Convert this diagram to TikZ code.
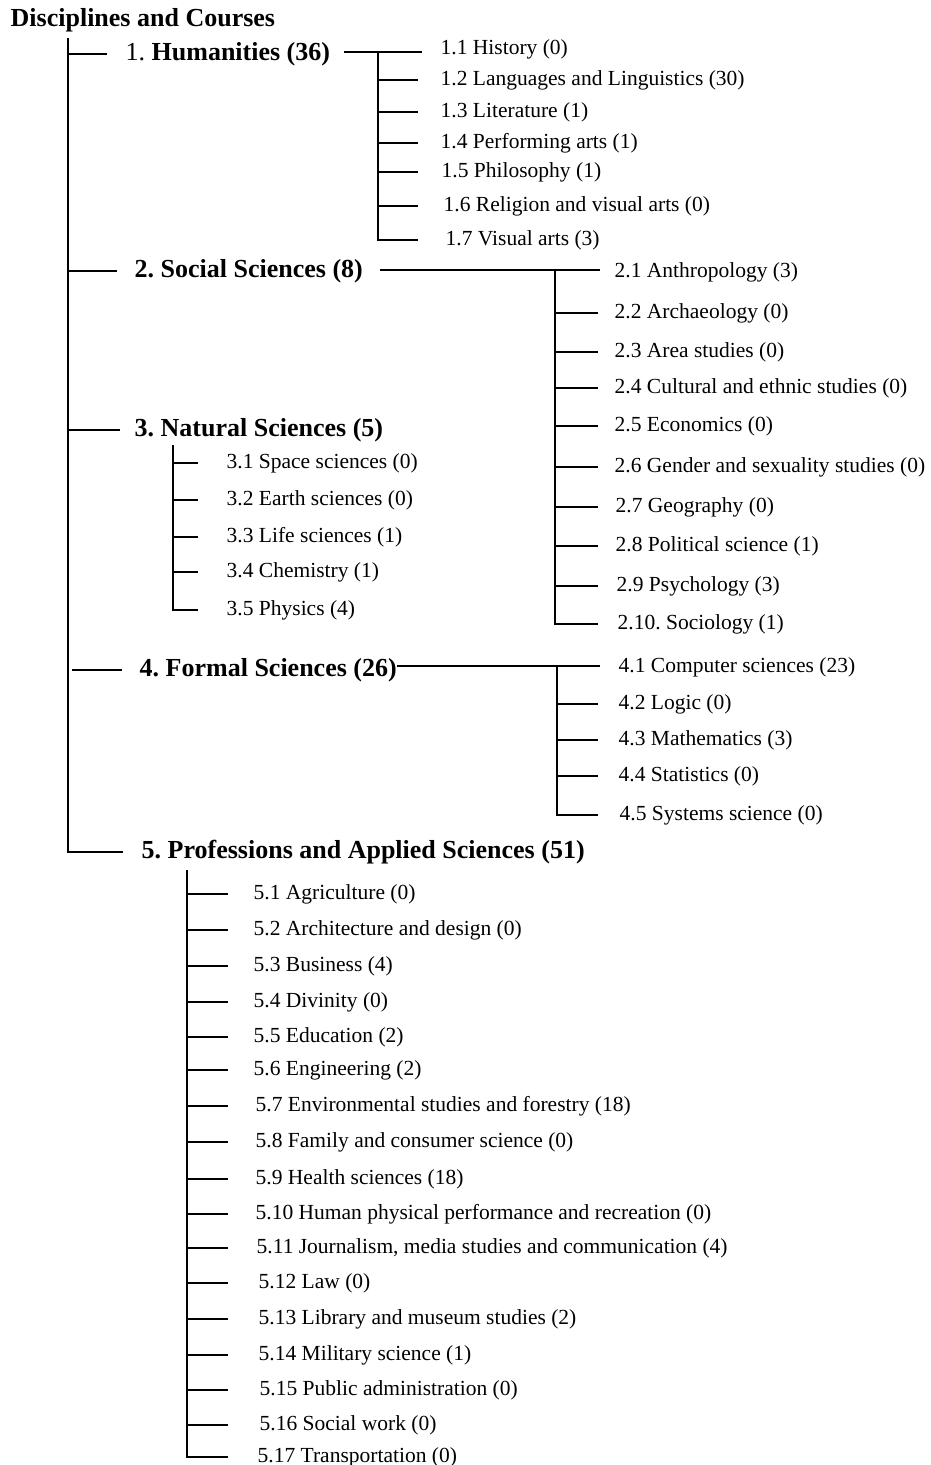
\documentclass[tikz,border=0pt]{standalone}
\usepackage{fontspec}
\setmainfont{Liberation Serif}
\usepackage{tikz}
\usetikzlibrary{calc}
\frenchspacing

\tikzset{
  head/.style={anchor=west, inner sep=0pt, yshift=-2pt, font=\fontsize{26}{30}\selectfont\bfseries},
  leaf/.style={anchor=west, inner sep=0pt, yshift=-2pt, font=\fontsize{21.5}{25}\selectfont},
}

\begin{document}
\begin{tikzpicture}[x=1pt, y=-1pt, line width=1.4pt]
  \useasboundingbox (0,0) rectangle (930,1465);
  \node[head] (title) at (10,18) {Disciplines and Courses};
  % level one
  \node[head] (d1) at (125,52) {\mdseries 1. \bfseries Humanities (36)};
  \node[head] (d2) at (134,269) {2. Social Sciences (8)};
  \node[head] (d3) at (134,428) {3. Natural Sciences (5)};
  \node[head] (d4) at (139,668) {4. Formal Sciences (26)};
  \node[head] (d5) at (141,850) {5. Professions and Applied Sciences (51)};
  % humanities
  \node[leaf] (h1) at (440,47) {1.1 History (0)};
  \node[leaf] (h2) at (440,78) {1.2 Languages and Linguistics (30)};
  \node[leaf] (h3) at (440,110) {1.3 Literature (1)};
  \node[leaf] (h4) at (440,141) {1.4 Performing arts (1)};
  \node[leaf] (h5) at (441,170) {1.5 Philosophy (1)};
  \node[leaf] (h6) at (443,204) {1.6 Religion and visual arts (0)};
  \node[leaf] (h7) at (445,238) {1.7 Visual arts (3)};
  % social sciences
  \node[leaf] (s1) at (614,270) {2.1 Anthropology (3)};
  \node[leaf] (s2) at (614,311) {2.2 Archaeology (0)};
  \node[leaf] (s3) at (614,350) {2.3 Area studies (0)};
  \node[leaf] (s4) at (614,386) {2.4 Cultural and ethnic studies (0)};
  \node[leaf] (s5) at (614,424) {2.5 Economics (0)};
  \node[leaf] (s6) at (614,465) {2.6 Gender and sexuality studies (0)};
  \node[leaf] (s7) at (615,505) {2.7 Geography (0)};
  \node[leaf] (s8) at (615,544) {2.8 Political science (1)};
  \node[leaf] (s9) at (616,584) {2.9 Psychology (3)};
  \node[leaf] (s10) at (617,622) {2.10. Sociology (1)};
  % natural sciences
  \node[leaf] (n1) at (226,461) {3.1 Space sciences (0)};
  \node[leaf] (n2) at (226,498) {3.2 Earth sciences (0)};
  \node[leaf] (n3) at (226,535) {3.3 Life sciences (1)};
  \node[leaf] (n4) at (226,570) {3.4 Chemistry (1)};
  \node[leaf] (n5) at (226,608) {3.5 Physics (4)};
  % formal sciences
  \node[leaf] (f1) at (618,665) {4.1 Computer sciences (23)};
  \node[leaf] (f2) at (618,702) {4.2 Logic (0)};
  \node[leaf] (f3) at (618,738) {4.3 Mathematics (3)};
  \node[leaf] (f4) at (618,774) {4.4 Statistics (0)};
  \node[leaf] (f5) at (619,813) {4.5 Systems science (0)};
  % professions
  \node[leaf] (p1) at (253,892) {5.1 Agriculture (0)};
  \node[leaf] (p2) at (253,928) {5.2 Architecture and design (0)};
  \node[leaf] (p3) at (253,964) {5.3 Business (4)};
  \node[leaf] (p4) at (253,1000) {5.4 Divinity (0)};
  \node[leaf] (p5) at (253,1035) {5.5 Education (2)};
  \node[leaf] (p6) at (253,1068) {5.6 Engineering (2)};
  \node[leaf] (p7) at (255,1104) {5.7 Environmental studies and forestry (18)};
  \node[leaf] (p8) at (255,1140) {5.8 Family and consumer science (0)};
  \node[leaf] (p9) at (255,1177) {5.9 Health sciences (18)};
  \node[leaf] (p10) at (255,1212) {5.10 Human physical performance and recreation (0)};
  \node[leaf] (p11) at (256,1246) {5.11 Journalism, media studies and communication (4)};
  \node[leaf] (p12) at (258,1281) {5.12 Law (0)};
  \node[leaf] (p13) at (258,1317) {5.13 Library and museum studies (2)};
  \node[leaf] (p14) at (258,1353) {5.14 Military science (1)};
  \node[leaf] (p15) at (259,1388) {5.15 Public administration (0)};
  \node[leaf] (p16) at (259,1423) {5.16 Social work (0)};
  \node[leaf] (p17) at (257,1455) {5.17 Transportation (0)};
  % spine and tick ends
  \coordinate (v0) at (68,38);
  \coordinate (v1) at (378,52);
  \coordinate (e1) at (418,0);
  \coordinate (v2) at (555,270);
  \coordinate (e2) at (598,0);
  \coordinate (v3) at (173,445);
  \coordinate (e3) at (198,0);
  \coordinate (v4) at (557,666);
  \coordinate (e4) at (598,0);
  \coordinate (v5) at (187,870);
  \coordinate (e5) at (228,0);
  % main tree
  \draw (v0) |- ([xshift=-18pt]d5.west);
  \draw (v0 |- d1) -- ([xshift=-18pt]d1.west);
  \draw (v0 |- d2) -- ([xshift=-17pt]d2.west);
  \draw (v0 |- d3) -- ([xshift=-14pt]d3.west);
  \draw ([xshift=4pt]v0 |- d4) -- ([xshift=-17pt]d4.west);
  % humanities
  \draw ([xshift=13pt]d1.east |- v1) -- ([xshift=4pt]e1 |- v1);
  \draw (v1) |- (e1 |- h7);
  \draw (v1 |- h2) -- (e1 |- h2);
  \draw (v1 |- h3) -- (e1 |- h3);
  \draw (v1 |- h4) -- (e1 |- h4);
  \draw (v1 |- h5) -- (e1 |- h5);
  \draw (v1 |- h6) -- (e1 |- h6);
  % social sciences
  \draw ([xshift=16pt]d2.east |- v2) -- ([xshift=-14pt]s1.west |- v2);
  \draw (v2) |- (e2 |- s10);
  \draw (v2 |- s2) -- (e2 |- s2);
  \draw (v2 |- s3) -- (e2 |- s3);
  \draw (v2 |- s4) -- (e2 |- s4);
  \draw (v2 |- s5) -- (e2 |- s5);
  \draw (v2 |- s6) -- (e2 |- s6);
  \draw (v2 |- s7) -- (e2 |- s7);
  \draw (v2 |- s8) -- (e2 |- s8);
  \draw (v2 |- s9) -- (e2 |- s9);
  % natural sciences
  \draw (v3) |- (e3 |- n5);
  \draw (v3 |- n1) -- (e3 |- n1);
  \draw (v3 |- n2) -- (e3 |- n2);
  \draw (v3 |- n3) -- (e3 |- n3);
  \draw (v3 |- n4) -- (e3 |- n4);
  % formal sciences
  \draw (d4.east |- v4) -- ([xshift=-18pt]f1.west |- v4);
  \draw (v4) |- (e4 |- f5);
  \draw (v4 |- f2) -- (e4 |- f2);
  \draw (v4 |- f3) -- (e4 |- f3);
  \draw (v4 |- f4) -- (e4 |- f4);
  % professions
  \draw (v5) |- (e5 |- p17);
  \draw (v5 |- p1) -- (e5 |- p1);
  \draw (v5 |- p2) -- (e5 |- p2);
  \draw (v5 |- p3) -- (e5 |- p3);
  \draw (v5 |- p4) -- (e5 |- p4);
  \draw (v5 |- p5) -- (e5 |- p5);
  \draw (v5 |- p6) -- (e5 |- p6);
  \draw (v5 |- p7) -- (e5 |- p7);
  \draw (v5 |- p8) -- (e5 |- p8);
  \draw (v5 |- p9) -- (e5 |- p9);
  \draw (v5 |- p10) -- (e5 |- p10);
  \draw (v5 |- p11) -- (e5 |- p11);
  \draw (v5 |- p12) -- (e5 |- p12);
  \draw (v5 |- p13) -- (e5 |- p13);
  \draw (v5 |- p14) -- (e5 |- p14);
  \draw (v5 |- p15) -- (e5 |- p15);
  \draw (v5 |- p16) -- (e5 |- p16);
\end{tikzpicture}
\end{document}
